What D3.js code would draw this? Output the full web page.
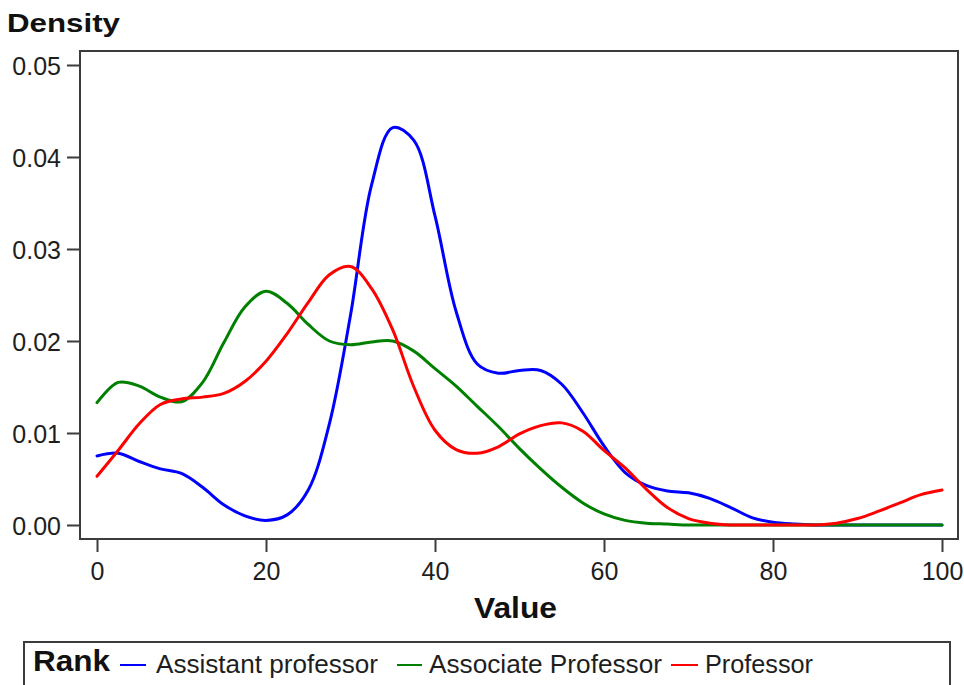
<!DOCTYPE html>
<html>
<head>
<meta charset="utf-8">
<script src="https://cdn.jsdelivr.net/npm/d3@7"></script>
<style>
  html, body { margin: 0; padding: 0; background: #fff; }
  svg { display: block; font-family: "Liberation Sans", Arial, sans-serif; }
</style>
</head>
<body>
<svg id="chart" width="964" height="685"></svg>
<script>
// ---- data ----
const xValues = [0, 2.5, 5, 7.5, 10, 12.5, 15, 17.5, 20, 22.5, 25, 27.5, 30, 32.5, 35, 37.5, 40, 42.5, 45, 47.5, 50,
                 52.5, 55, 57.5, 60, 62.5, 65, 67.5, 70, 72.5, 75, 77.5, 80, 82.5, 85, 87.5, 90, 92.5, 95, 97.5, 100];
const assistant = [0.0075, 0.0078, 0.0069, 0.0061, 0.0056, 0.0041, 0.0022, 0.0010, 0.0005, 0.0011, 0.0038, 0.0110, 0.0228,
                   0.0370, 0.0432, 0.0418, 0.0336, 0.0232, 0.0175, 0.0165, 0.0168, 0.0168, 0.0153, 0.0122, 0.0086, 0.0057,
                   0.0043, 0.0037, 0.0035, 0.0029, 0.0019, 0.0008, 0.0003, 0.0001, 0, 0, 0, 0, 0, 0, 0];
const associate = [0.0133, 0.0155, 0.0151, 0.0139, 0.0134, 0.0155, 0.0198, 0.0237, 0.0254, 0.0241, 0.0218, 0.0200, 0.0196,
                   0.0199, 0.0200, 0.0189, 0.0170, 0.0151, 0.0129, 0.0107, 0.0083, 0.0061, 0.0041, 0.0024, 0.0012, 0.0005,
                   0.0002, 0.0001, 0, 0, 0, 0, 0, 0, 0, 0, 0, 0, 0, 0, 0];
const professor = [0.0053, 0.0081, 0.0110, 0.0131, 0.0137, 0.0139, 0.0143, 0.0156, 0.0178, 0.0208, 0.0242, 0.0272, 0.0281,
                   0.0257, 0.0212, 0.0150, 0.0103, 0.0082, 0.0078, 0.0085, 0.0099, 0.0108, 0.0111, 0.0102, 0.0081, 0.0062,
                   0.0039, 0.0019, 0.0007, 0.0002, 0, 0, 0, 0, 0, 0.0002, 0.0007, 0.0015, 0.0024, 0.0033, 0.0038];
const seriesNames = ["Assistant professor", "Associate Professor", "Professor"];
const seriesColors = ["#0000ff", "#008000", "#ff0000"];
const xTicks = [0, 20, 40, 60, 80, 100];
const yTicks = [0, 0.01, 0.02, 0.03, 0.04, 0.05];
const xTitle = "Value";
const yTitle = "Density";
const legendTitle = "Rank";

// ---- layout ----
const svg = d3.select("#chart");
const frame = { left: 80, top: 51, right: 958, bottom: 539 };
const x = d3.scaleLinear().domain([0, 100]).range([97, 942]);
const y = d3.scaleLinear().domain([0, 0.05]).range([525, 65]);
const axisColor = "#3c3c3c";
const textColor = "#1e1e1e";

svg.append("defs").append("clipPath").attr("id", "clip")
  .append("rect").attr("x", frame.left).attr("y", frame.top)
  .attr("width", frame.right - frame.left).attr("height", frame.bottom - frame.top);

// curves
const allSeries = [assistant, associate, professor];
const line = d3.line().x((d, i) => x(xValues[i])).y(d => y(d)).curve(d3.curveCatmullRom.alpha(0.5));
const g = svg.append("g").attr("clip-path", "url(#clip)");
allSeries.forEach((s, k) => {
  g.append("path").datum(s)
    .attr("fill", "none").attr("stroke", seriesColors[k]).attr("stroke-width", 3)
    .attr("stroke-linejoin", "round").attr("stroke-linecap", "round")
    .attr("d", line);
});

// frame
svg.append("rect").attr("x", frame.left).attr("y", frame.top)
  .attr("width", frame.right - frame.left).attr("height", frame.bottom - frame.top)
  .attr("fill", "none").attr("stroke", axisColor).attr("stroke-width", 2);

// y axis
const yAxis = svg.append("g").attr("transform", `translate(${frame.left},0)`)
  .call(d3.axisLeft(y).tickValues(yTicks).tickFormat(d3.format(".2f")).tickSize(13).tickPadding(6).tickSizeOuter(0));
yAxis.select(".domain").remove();
yAxis.selectAll("line").attr("stroke", axisColor).attr("stroke-width", 2);
yAxis.selectAll("text").attr("font-size", 25).attr("fill", textColor)
  .attr("font-family", "Liberation Sans, Arial, sans-serif").attr("dy", "0.38em");

// x axis
const xAxis = svg.append("g").attr("transform", `translate(0,${frame.bottom})`)
  .call(d3.axisBottom(x).tickValues(xTicks).tickFormat(d3.format("d")).tickSize(13).tickPadding(10).tickSizeOuter(0));
xAxis.select(".domain").remove();
xAxis.selectAll("line").attr("stroke", axisColor).attr("stroke-width", 2);
xAxis.selectAll("text").attr("font-size", 25).attr("fill", textColor)
  .attr("font-family", "Liberation Sans, Arial, sans-serif");

// titles
svg.append("text").attr("x", 7).attr("y", 32).attr("font-size", 26).attr("font-weight", "bold")
  .attr("fill", "#111").attr("textLength", 113).attr("lengthAdjust", "spacingAndGlyphs").text(yTitle);
svg.append("text").attr("x", 474).attr("y", 618).attr("font-size", 29).attr("font-weight", "bold")
  .attr("fill", "#111").attr("textLength", 83).attr("lengthAdjust", "spacingAndGlyphs").text(xTitle);

// legend
svg.append("rect").attr("x", 24).attr("y", 642).attr("width", 926).attr("height", 60)
  .attr("fill", "none").attr("stroke", axisColor).attr("stroke-width", 2);
svg.append("text").attr("x", 33).attr("y", 671).attr("font-size", 29).attr("font-weight", "bold")
  .attr("fill", "#111").attr("textLength", 77).attr("lengthAdjust", "spacingAndGlyphs").text(legendTitle);
const legendItems = [
  { lx1: 120, lx2: 146, tx: 156, tw: 222 },
  { lx1: 397, lx2: 422, tx: 429, tw: 233 },
  { lx1: 671, lx2: 698, tx: 705, tw: 108 }
];
legendItems.forEach((it, k) => {
  svg.append("line").attr("x1", it.lx1).attr("x2", it.lx2).attr("y1", 665).attr("y2", 665)
    .attr("stroke", seriesColors[k]).attr("stroke-width", 2);
  svg.append("text").attr("x", it.tx).attr("y", 673).attr("font-size", 25).attr("fill", textColor)
    .attr("textLength", it.tw).attr("lengthAdjust", "spacingAndGlyphs").text(seriesNames[k]);
});
</script>
</body>
</html>
